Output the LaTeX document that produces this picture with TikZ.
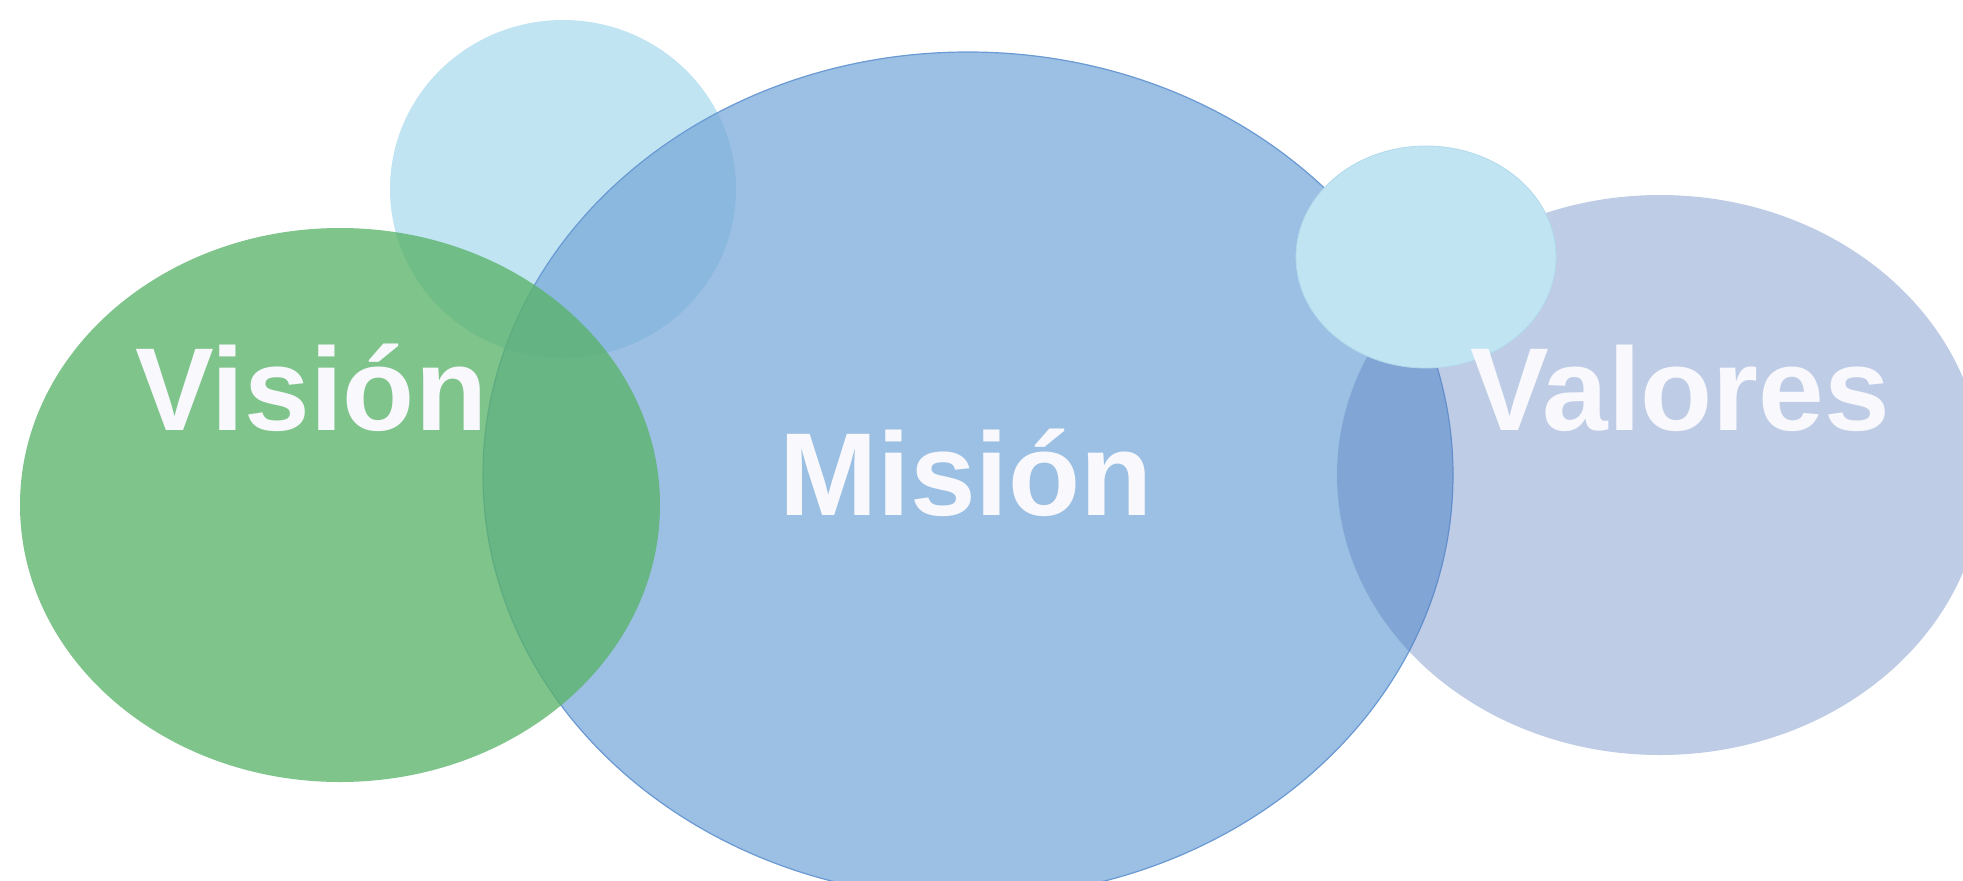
\documentclass[tikz,border=0pt]{standalone}
\usepackage{fontspec}
\setmainfont{Liberation Sans}
\usetikzlibrary{shapes.geometric}

\definecolor{skyfill}{HTML}{C0E4F2}
\definecolor{skyline}{HTML}{B2DAEC}
\definecolor{missionfill}{RGB}{118,168,216}
\definecolor{missionline}{HTML}{6A9AD4}
\definecolor{visionfill}{RGB}{90,179,106}
\definecolor{valuesfill}{RGB}{92,128,192}
\definecolor{labeltext}{HTML}{F8F8FD}

\begin{document}
\begin{tikzpicture}[x=1pt,y=-1pt,
  blob/.style={ellipse, inner sep=0pt, outer sep=0pt},
  wordlabel/.style={font=\fontsize{118}{118}\selectfont\bfseries,
    text=labeltext, inner sep=0pt}]
  \useasboundingbox (0,0) rectangle (1963,881);
  \clip (0,0) rectangle (1963,881);

  % background disc behind the vision area
  \node[blob, fill=skyfill, minimum width=346pt, minimum height=338pt]
    (skydisc) at (563,189) {};
  % mission: large translucent blue ellipse
  \node[blob, fill=missionfill, fill opacity=0.73, draw=missionline,
    line width=1.2pt, minimum width=970pt, minimum height=846pt]
    (mision) at (968,475) {};
  % vision: translucent green ellipse
  \node[blob, fill=visionfill, fill opacity=0.78,
    minimum width=640pt, minimum height=554pt]
    (vision) at (340,505) {};
  % values: pale translucent blue ellipse
  \node[blob, fill=valuesfill, fill opacity=0.4,
    minimum width=646pt, minimum height=560pt]
    (valores) at (1660,475) {};
  % small opaque ellipse on top
  \node[blob, fill=skyfill, draw=skyline, line width=0.8pt,
    minimum width=260pt, minimum height=222pt]
    (skyoval) at (1426,257) {};

  % labels
  \node[wordlabel, anchor=base west] (tvision) at (135,430) {Visión};
  \node[wordlabel, anchor=base] (tmision) at (966,515) {Misión};
  \node[wordlabel, anchor=base west] (tvalores) at (1470,430) {Valores};
\end{tikzpicture}
\end{document}
